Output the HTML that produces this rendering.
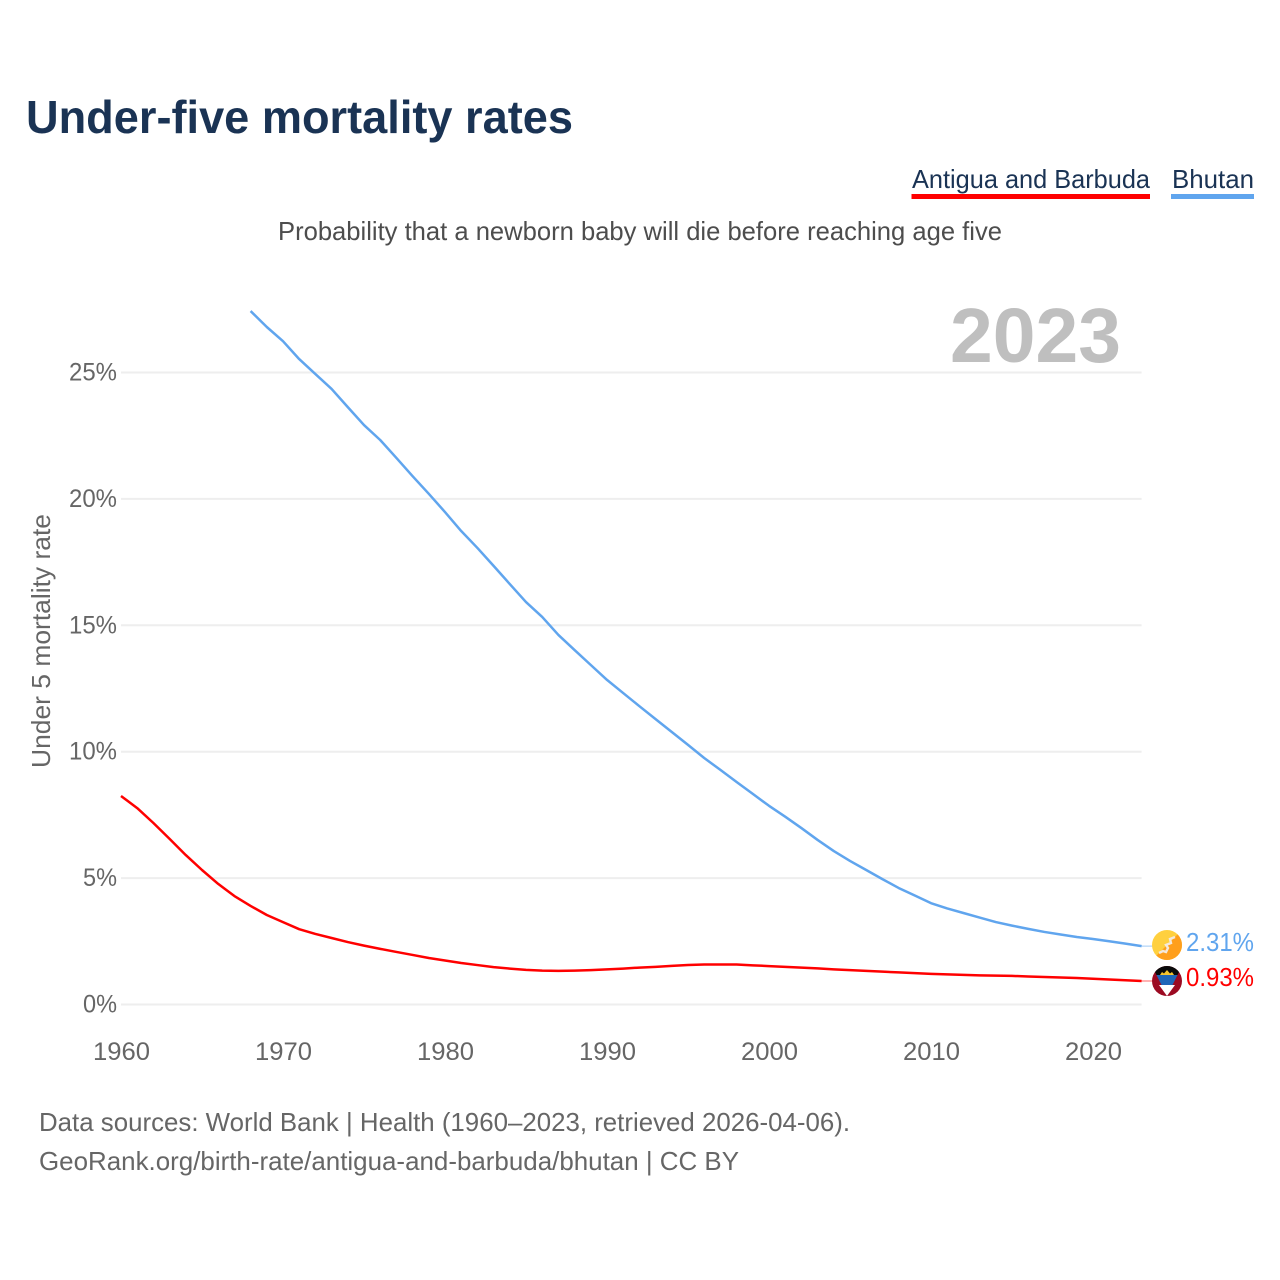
<!DOCTYPE html>
<html lang="en">
<head>
<meta charset="utf-8">
<title>Under-five mortality rates</title>
<style>
html,body{margin:0;padding:0;background:#fff;width:1280px;height:1280px;overflow:hidden}
svg{display:block}
text{font-family:"Liberation Sans",sans-serif}
</style>
</head>
<body>
<svg id="chart" xmlns="http://www.w3.org/2000/svg" width="1280" height="1280" viewBox="0 0 1280 1280">
  <rect width="1280" height="1280" fill="#fff"/>
  <text x="26" y="133" font-size="46" font-weight="700" fill="#1a3354" textLength="547" lengthAdjust="spacingAndGlyphs">Under-five mortality rates</text>
  <g>
    <g>
      <text x="912" y="188" font-size="26" fill="#1a3354" textLength="238" lengthAdjust="spacingAndGlyphs">Antigua and Barbuda</text>
      <rect x="911.5" y="194" width="238.5" height="5" fill="#ff0000"/>
    </g>
    <g>
      <text x="1172" y="188" font-size="26" fill="#1a3354" textLength="82" lengthAdjust="spacingAndGlyphs">Bhutan</text>
      <rect x="1171" y="194" width="83" height="5" fill="#60a5ee"/>
    </g>
  </g>
  <text x="278" y="240" font-size="26" fill="#4d4d4d" textLength="724" lengthAdjust="spacingAndGlyphs">Probability that a newborn baby will die before reaching age five</text>
  <g id="grid"></g>
  <g id="y-ticks"></g>
  <g id="x-ticks"></g>
  <text x="950" y="362" font-size="77" font-weight="700" fill="#bfbfbf" textLength="171" lengthAdjust="spacingAndGlyphs">2023</text>
  <text transform="translate(50 768) rotate(-90)" font-size="26" fill="#666" textLength="254" lengthAdjust="spacingAndGlyphs">Under 5 mortality rate</text>
  <g id="series"></g>
  <defs>
    <clipPath id="clip-bt"><circle cx="1167" cy="945" r="15"/></clipPath>
    <clipPath id="clip-ag"><circle cx="1167" cy="981" r="15"/></clipPath>
    <linearGradient id="bt-grad" x1="0" y1="1" x2="1" y2="0"><stop offset="0" stop-color="#ffd03f"/><stop offset="1" stop-color="#ffd03f"/></linearGradient>
  </defs>
  <g clip-path="url(#clip-bt)">
    <rect x="1152" y="930" width="30" height="30" fill="#ffd03f"/>
    <path d="M1182 930 V960 H1152 Z" fill="#ff9f1c"/>
    <path d="M1159 953 L1163 951 L1166 952 L1168 948 L1166 945 L1171 943 L1170 939 L1175 937" fill="none" stroke="#f4e9dc" stroke-width="2.4"/>
  </g>
  <g clip-path="url(#clip-ag)">
    <rect x="1152" y="966" width="30" height="30" fill="#9c0a22"/>
    <path d="M1152 966 H1182 L1177.5 975 H1156.5 Z" fill="#0a0a0a"/>
    <path d="M1156.5 975 H1177.5 L1172.5 985 H1161.5 Z" fill="#1f66b8"/>
    <path d="M1159 985 H1175 L1167 996 Z" fill="#fff"/>
    <path d="M1160 975 L1162 972 L1164 973.5 L1167 970 L1170 973.5 L1172 972 L1174 975 Z" fill="#f6c52e"/>
  </g>
  <text x="1186" y="951" font-size="26" fill="#60a5ee" textLength="68" lengthAdjust="spacingAndGlyphs">2.31%</text>
  <text x="1186" y="986" font-size="26" fill="#ff0000" textLength="68" lengthAdjust="spacingAndGlyphs">0.93%</text>
  <text x="39" y="1131" font-size="26" fill="#666" textLength="811" lengthAdjust="spacingAndGlyphs">Data sources: World Bank | Health (1960–2023, retrieved 2026-04-06).</text>
  <text x="39" y="1170" font-size="26" fill="#666" textLength="700" lengthAdjust="spacingAndGlyphs">GeoRank.org/birth-rate/antigua-and-barbuda/bhutan | CC BY</text>
</svg>
<script>
const yTickValues = [0, 5, 10, 15, 20, 25];
const xTickYears = [1960, 1970, 1980, 1990, 2000, 2010, 2020];
const antiguaStartYear = 1960;
const antiguaValues = [8.25, 7.77, 7.18, 6.55, 5.91, 5.32, 4.77, 4.29, 3.9, 3.54, 3.26, 2.98, 2.79, 2.63, 2.47, 2.33, 2.2, 2.08, 1.96, 1.84, 1.74, 1.64, 1.56, 1.48, 1.42, 1.37, 1.34, 1.33, 1.34, 1.36, 1.39, 1.42, 1.46, 1.49, 1.53, 1.56, 1.58, 1.58, 1.58, 1.55, 1.52, 1.49, 1.46, 1.43, 1.39, 1.36, 1.33, 1.3, 1.27, 1.24, 1.21, 1.19, 1.17, 1.15, 1.14, 1.13, 1.11, 1.09, 1.07, 1.05, 1.02, 0.99, 0.96, 0.93];
const bhutanStartYear = 1968;
const bhutanValues = [27.43, 26.8, 26.24, 25.53, 24.94, 24.35, 23.63, 22.92, 22.33, 21.62, 20.9, 20.2, 19.48, 18.73, 18.06, 17.35, 16.63, 15.92, 15.33, 14.62, 14.02, 13.43, 12.84, 12.32, 11.8, 11.29, 10.78, 10.27, 9.75, 9.28, 8.8, 8.33, 7.86, 7.43, 6.98, 6.51, 6.07, 5.68, 5.32, 4.96, 4.61, 4.31, 4.01, 3.8, 3.62, 3.44, 3.26, 3.12, 2.99, 2.87, 2.77, 2.67, 2.59, 2.5, 2.41, 2.31];

const NS = 'http://www.w3.org/2000/svg';
const xScale = year => 121 + (year - 1960) * 16.2;
const yScale = value => 1004.5 - value * 25.28;
const plotRight = xScale(2023);

function make(tag, attrs, parent) {
  const el = document.createElementNS(NS, tag);
  for (const k in attrs) el.setAttribute(k, attrs[k]);
  parent.appendChild(el);
  return el;
}

const gridG = document.getElementById('grid');
const yG = document.getElementById('y-ticks');
yTickValues.forEach(v => {
  const line = make('line', {x1: 121, x2: plotRight, y1: yScale(v), y2: yScale(v), stroke: '#eeeeee', 'stroke-width': 2}, gridG);
  
  
  const t = make('text', {x: 117, y: yScale(v) + 8, 'font-size': 25, fill: '#666', 'text-anchor': 'end', textLength: v < 10 ? 34 : 48, lengthAdjust: 'spacingAndGlyphs'}, yG);
  
  
  t.textContent = v + '%';
});

const xG = document.getElementById('x-ticks');
xTickYears.forEach(y => {
  const t = make('text', {x: xScale(y) + 0.5, y: 1060, 'font-size': 25, fill: '#666', 'text-anchor': 'middle', textLength: 57, lengthAdjust: 'spacingAndGlyphs'}, xG);
  
  
  t.textContent = y;
});

function drawSeries(values, startYear, color, name) {
  const pts = values.map((v, i) => xScale(startYear + i).toFixed(2) + ',' + yScale(v).toFixed(2)).join(' ');
  const parent = document.getElementById('series');
  const poly = make('polyline', {points: pts, fill: 'none', stroke: color, 'stroke-width': 2.5, 'stroke-linejoin': 'round'}, parent);
  
  
  const endY = yScale(values[values.length - 1]);
  const conn = make('line', {x1: plotRight, x2: 1153, y1: endY, y2: endY, stroke: color, 'stroke-width': 1, opacity: 0.6}, parent);
  
  
}
drawSeries(bhutanValues, bhutanStartYear, '#60a5ee', 'line-bhutan');
drawSeries(antiguaValues, antiguaStartYear, '#ff0000', 'line-antigua-and-barbuda');
</script>
</body>
</html>
